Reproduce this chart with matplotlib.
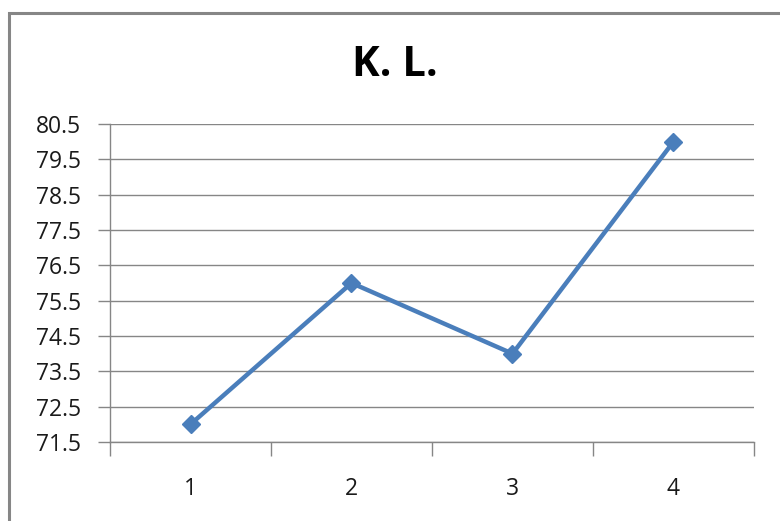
import matplotlib
matplotlib.use("Agg")
import matplotlib.pyplot as plt
from matplotlib.patches import Rectangle

categories = ["1", "2", "3", "4"]
values = [72, 76, 74, 80]
yticks = [71.5, 72.5, 73.5, 74.5, 75.5, 76.5, 77.5, 78.5, 79.5, 80.5]
title = "K. L."

plt.rcParams['font.family'] = ['Open Sans', 'DejaVu Sans']

fig = plt.figure(figsize=(7.8, 5.21), dpi=100)
fig.patch.set_facecolor("white")
fig.patches.append(Rectangle((9/780, -0.1), 1.2, 1 - 13/521 + 0.1,
                             transform=fig.transFigure, fill=False,
                             edgecolor="#868686", linewidth=2.2))

ax = fig.add_axes([110/780, 1 - 442/521, 644/780, 318/521])
x = list(range(1, len(categories) + 1))
ax.plot(x, values, color="#4A7EBB", linewidth=3.2, marker="D", markersize=9,
        markerfacecolor="#4A7EBB", markeredgecolor="#4A7EBB", zorder=3, clip_on=False)

ax.set_ylim(yticks[0], yticks[-1])
ax.set_yticks(yticks)
ax.set_yticklabels([f"{t:.1f}" for t in yticks])
ax.set_xlim(0.5, len(categories) + 0.5)
ax.set_xticks([i + 0.5 for i in range(0, len(categories) + 1)])
ax.set_xticklabels([])
ax.set_xticks(x, minor=True)
ax.set_xticklabels(categories, minor=True)
ax.tick_params(axis="x", which="major", length=10, color="#868686", width=1)
ax.tick_params(axis="x", which="minor", length=0, pad=25, labelsize=16.5, labelcolor="#1a1a1a")
ax.tick_params(axis="y", length=9, color="#868686", width=1, pad=12, labelsize=16.5, labelcolor="#1a1a1a")

ax.yaxis.grid(True, color="#868686", linewidth=1)
ax.set_axisbelow(True)
for s in ["top", "right"]:
    ax.spines[s].set_visible(False)
for s in ["left", "bottom"]:
    ax.spines[s].set_color("#868686")
    ax.spines[s].set_linewidth(1)

fig.text(395/780, 1 - 65/521, title, ha="center", va="center",
         fontsize=30, fontweight="bold", color="black")

fig.savefig("out.png", dpi=100)
